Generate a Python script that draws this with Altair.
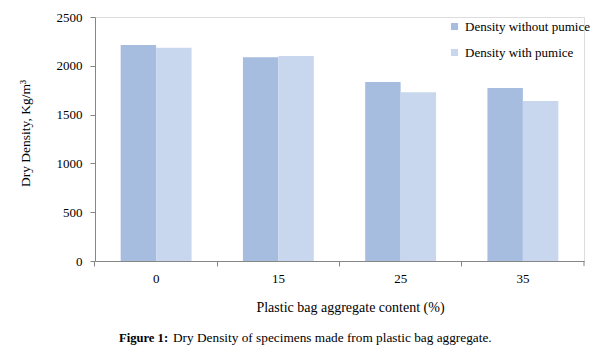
import altair as alt
import pandas as pd

categories = ["0", "15", "25", "35"]
series = ["Density without pumice", "Density with pumice"]
without_pumice = [2213, 2087, 1834, 1773]
with_pumice = [2186, 2100, 1728, 1639]
colors = ["#A6BDE0", "#C9D7EE"]

rows = []
for c, a, b in zip(categories, without_pumice, with_pumice):
    rows.append({"content": c, "series": series[0], "density": a})
    rows.append({"content": c, "series": series[1], "density": b})
df = pd.DataFrame(rows)

W, H = 489, 244
FONT = "Liberation Serif"
PI, PO = 0.42, 0.21
band_pos = -(PI / 2) / (1 - PI)

bars = alt.Chart(df).mark_bar().encode(
    x=alt.X("content:N", sort=categories,
            scale=alt.Scale(paddingInner=PI, paddingOuter=PO),
            axis=alt.Axis(title="Plastic bag aggregate content (%)", labelAngle=0,
                          domainColor="#868686", tickColor="#868686", tickSize=5,
                          labelPadding=6, labelFontSize=13, labelFont=FONT, labelColor="#000000",
                          titleFont=FONT, titleFontSize=14, titleFontWeight="normal",
                          titleColor="#000000", titleX=255, titleY=46, titleBaseline="middle",
                          bandPosition=band_pos, labelBound=False)),
    xOffset=alt.XOffset("series:N", sort=series),
    y=alt.Y("density:Q", scale=alt.Scale(domain=[0, 2500]),
            axis=alt.Axis(title="Dry Density, Kg/m³", values=[0, 500, 1000, 1500, 2000, 2500],
                          format="d",
                          grid=False, domainColor="#868686", tickColor="#868686", tickSize=5,
                          labelPadding=8, labelFontSize=13, labelFont=FONT, labelColor="#000000",
                          titleFont=FONT, titleFontSize=13.5, titleFontWeight="normal",
                          titleColor="#000000", titleX=-70, titleY=116, titleBaseline="middle",
                          titleAngle=-90, titleAlign="center")),
    color=alt.Color("series:N", sort=series, scale=alt.Scale(domain=series, range=colors),
                    legend=alt.Legend(title=None, orient="none", legendX=353, legendY=3,
                                      symbolType="square", symbolSize=50, symbolStrokeWidth=0,
                                      labelFont=FONT, labelFontSize=13, labelColor="#000000",
                                      rowPadding=12, padding=0, labelOffset=4)),
)

end_tick = alt.Chart(pd.DataFrame({"k": [0]})).mark_rule(color="#868686").encode(
    x=alt.value(W), y=alt.value(H), y2=alt.value(H + 5))

cap_df = pd.DataFrame({"a": ["Figure 1:"], "b": ["Dry Density of specimens made from plastic bag aggregate."]})
cap1 = alt.Chart(cap_df).mark_text(font=FONT, fontSize=12.6, fontWeight="bold", align="left",
                                   baseline="middle", color="#000000").encode(
    text="a:N", x=alt.value(24), y=alt.value(321))
cap2 = alt.Chart(cap_df).mark_text(font=FONT, fontSize=13.3, align="left",
                                   baseline="middle", color="#000000").encode(
    text="b:N", x=alt.value(78), y=alt.value(321))

chart = alt.layer(bars, end_tick, cap1, cap2).properties(
    width=W, height=H,
    autosize=alt.AutoSizeParams(type="none"),
    padding={"left": 95, "top": 17, "right": 24, "bottom": 92},
).configure_view(stroke=None).configure(background="white", font=FONT).configure_axis(
    labelFont=FONT, titleFont=FONT).configure_legend(labelFont=FONT)

chart.save("out.html", embed_options={"renderer": "svg", "actions": False})
